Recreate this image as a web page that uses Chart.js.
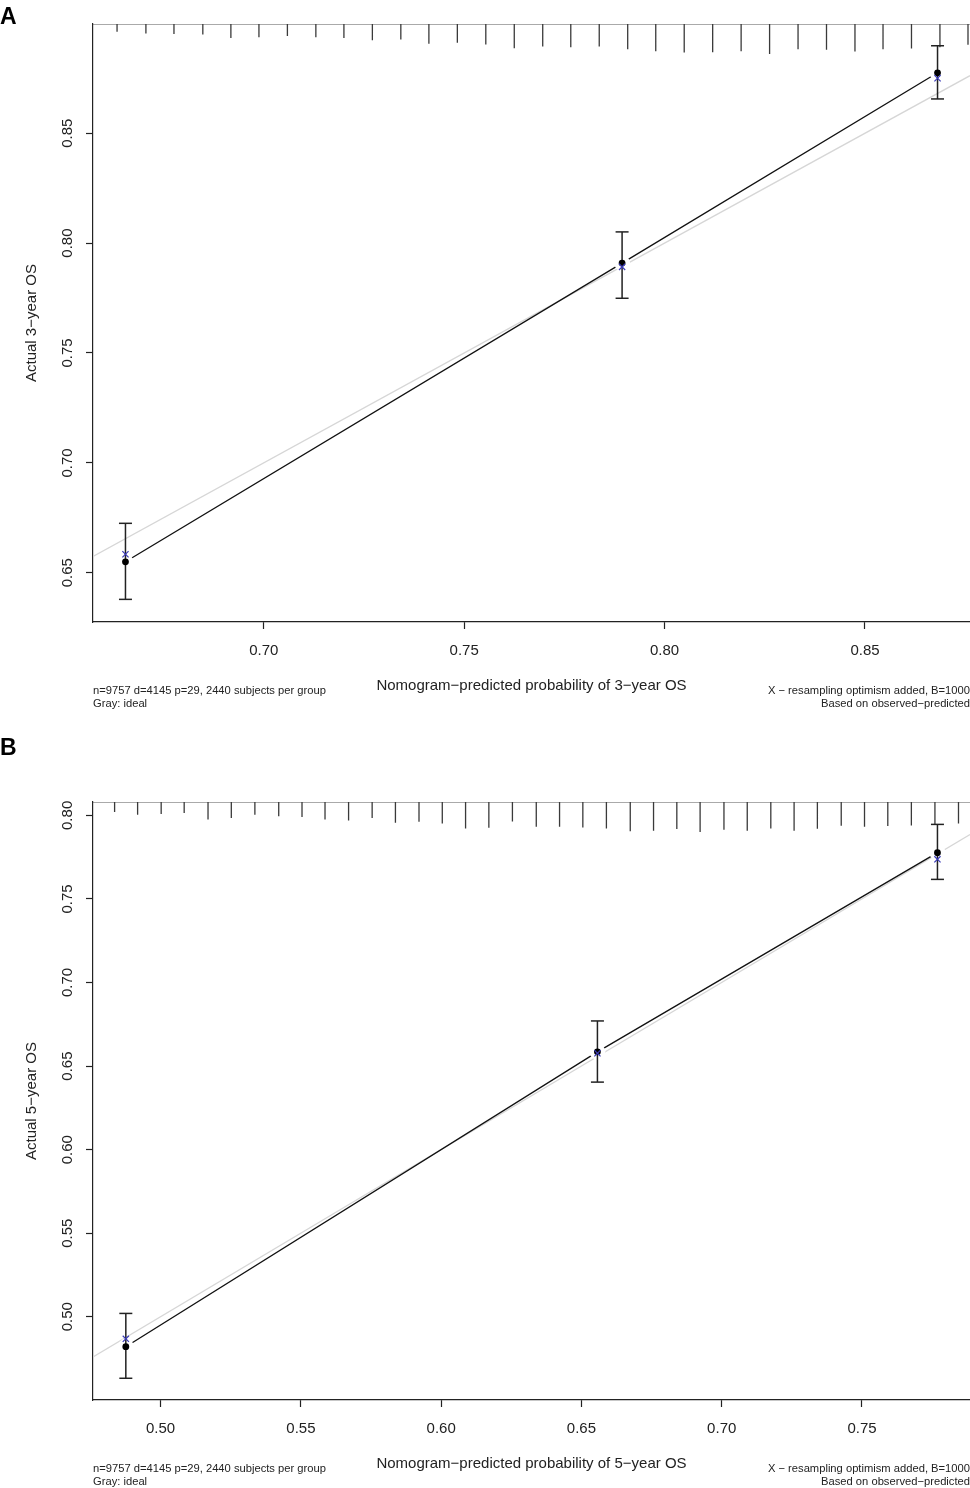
<!DOCTYPE html>
<html>
<head>
<meta charset="utf-8">
<title>Calibration curves</title>
<script src="https://cdn.jsdelivr.net/npm/chart.js@4.4.0/dist/chart.umd.min.js"></script>
<style>
  html, body { margin: 0; padding: 0; background: #fff; overflow: hidden; }
  .panel { position: absolute; left: 0; width: 970px; }
  #wrapA { top: 0; height: 710px; }
  #wrapB { top: 710px; height: 778px; }
</style>
</head>
<body>
<div class="panel" id="wrapA"><canvas id="chartA"></canvas></div>
<div class="panel" id="wrapB"><canvas id="chartB"></canvas></div>
<script>
"use strict";

// panel A: 3-year OS
const predA = [0.6655, 0.7894, 0.8681];
const obsA = [0.6550, 0.7909, 0.8775];
const corA = [0.6584, 0.7892, 0.8750];
const loA = [0.6379, 0.7749, 0.8656];
const hiA = [0.6725, 0.8051, 0.8898];
const rugXA = [
  0.6634, 0.6706, 0.6776, 0.6848, 0.6918, 0.6988, 0.7059, 0.7130, 0.7200, 0.7271,
  0.7342, 0.7412, 0.7483, 0.7554, 0.7625, 0.7696, 0.7766, 0.7837, 0.7908, 0.7978,
  0.8049, 0.8120, 0.8191, 0.8262, 0.8333, 0.8404, 0.8475, 0.8545, 0.8616, 0.8687,
  0.8757,
];
const rugFreqA = [
  7.7, 9.3, 9.7, 10.3, 13.7, 13, 11.7, 13, 13.7, 16,
  15.3, 19.3, 18.3, 20, 23.7, 22, 22.7, 22, 24.7, 26.7,
  28, 27.7, 26.7, 29.3, 24.7, 25.3, 27, 24.7, 24, 22.7,
  20.3,
];
const xTicksA = [0.70, 0.75, 0.80, 0.85];
const yTicksA = [0.65, 0.70, 0.75, 0.80, 0.85];

// panel B: 5-year OS
const predB = [0.4876, 0.6557, 0.7769];
const obsB = [0.4821, 0.6585, 0.7777];
const corB = [0.4868, 0.6577, 0.7737];
const loB = [0.4632, 0.6404, 0.7617];
const hiB = [0.5020, 0.6770, 0.7946];
const rugXB = [
  0.4836, 0.4918, 0.5002, 0.5084, 0.5169, 0.5252, 0.5336, 0.5421, 0.5504, 0.5586,
  0.5670, 0.5754, 0.5837, 0.5921, 0.6004, 0.6087, 0.6170, 0.6254, 0.6339, 0.6422,
  0.6505, 0.6589, 0.6674, 0.6757, 0.6840, 0.6923, 0.7008, 0.7091, 0.7175, 0.7258,
  0.7341, 0.7426, 0.7509, 0.7592, 0.7676, 0.7760, 0.7844,
];
const rugFreqB = [
  10.3, 13, 12.3, 11.3, 18, 16.3, 13, 14.7, 15.3, 18,
  19, 16.3, 21.3, 20.3, 22, 27, 26.3, 20, 25.3, 25.3,
  26, 27, 30, 29.3, 27.6, 30.6, 28.3, 29.3, 27, 29.3,
  27.3, 24.3, 25.3, 24.6, 24, 23, 22,
];
const xTicksB = [0.50, 0.55, 0.60, 0.65, 0.70, 0.75];
const yTicksB = [0.50, 0.55, 0.60, 0.65, 0.70, 0.75, 0.80];

const noteLeft = ["n=9757 d=4145 p=29, 2440 subjects per group", "Gray: ideal"];
const noteRight = ["X \u2212 resampling optimism added, B=1000", "Based on observed\u2212predicted"];

const FONT = "'Liberation Sans', Arial, Helvetica, sans-serif";
const INK = "#222";

// footnotes and panel letter
const notesPlugin = {
  id: "notes",
  afterDraw(chart, args, opts) {
    const { ctx, chartArea } = chart;
    ctx.save();
    ctx.fillStyle = INK;
    ctx.font = "11.2px " + FONT;
    ctx.textBaseline = "middle";
    ctx.textAlign = "left";
    noteLeft.forEach((t, i) => ctx.fillText(t, chartArea.left, chartArea.bottom + 69 + i * 13));
    ctx.textAlign = "right";
    noteRight.forEach((t, i) => ctx.fillText(t, chartArea.right, chartArea.bottom + 69 + i * 13));
    ctx.font = "bold 23px " + FONT;
    ctx.fillStyle = "#000";
    ctx.textAlign = "left";
    ctx.textBaseline = "alphabetic";
    ctx.fillText(opts.letter, 0, opts.letterY);
    ctx.restore();
  },
};

function pts(xs, ys) {
  return xs.map((x, i) => ({ x: x, y: ys[i] }));
}

function makePanel(id, p) {
  const yRange = p.yMax - p.yMin;
  const maxFreq = Math.max(...p.rugFreq);
  const rugData = [];
  p.rugX.forEach((x, i) => {
    rugData.push({ x: x, y: p.yMax });
    rugData.push({ x: x, y: p.yMax - (p.rugFreq[i] / maxFreq) * 0.05 * yRange });
    rugData.push({ x: x, y: null });
  });
  const barData = [];
  p.pred.forEach((x, i) => {
    barData.push({ x: x, y: p.lo[i] });
    barData.push({ x: x, y: p.hi[i] });
    barData.push({ x: x, y: null });
  });
  const ideal = [p.xMin, p.xMax].map((v) => ({ x: v, y: v }));

  const tickFont = { family: FONT, size: 15 };
  const gridOpts = { drawOnChartArea: false, drawTicks: true, tickLength: 7, color: INK, tickWidth: 1.2 };
  const borderOpts = { display: true, color: INK, width: 1.2 };

  return new Chart(document.getElementById(id), {
    type: "line",
    data: {
      datasets: [
        { data: rugData, borderColor: "#3a3a3a", borderWidth: 1.3, pointRadius: 0, spanGaps: false, order: 6 },
        { data: ideal, borderColor: "#d6d6d6", borderWidth: 1.3, pointRadius: 0, order: 5 },
        { data: pts(p.pred, p.obs), borderColor: "#111", borderWidth: 1.3, pointRadius: 0, order: 4 },
        { data: pts(p.pred, p.obs), showLine: false, pointRadius: 8, pointBackgroundColor: "#fff", pointBorderWidth: 0, order: 3 },
        { data: barData, borderColor: "#222", borderWidth: 1.5, pointStyle: "line", pointRadius: 6.5, pointBorderWidth: 1.5, spanGaps: false, order: 2 },
        { data: pts(p.pred, p.obs), showLine: false, pointRadius: 3.4, pointBackgroundColor: "#000", pointBorderColor: "#000", pointBorderWidth: 0, order: 1 },
        { data: pts(p.pred, p.cor), showLine: false, pointStyle: "crossRot", pointRadius: 4.4, pointBorderColor: "#3c3cb8", pointBorderWidth: 1.2, order: 0 },
      ],
    },
    options: {
      responsive: true,
      maintainAspectRatio: false,
      animation: false,
      events: [],
      layout: { autoPadding: false, padding: { top: p.top, left: 0, right: 0, bottom: 0 } },
      plugins: {
        legend: { display: false },
        tooltip: { enabled: false },
        notes: { letter: p.letter, letterY: p.letterY },
      },
      scales: {
        x: {
          type: "linear",
          min: p.xMin,
          max: p.xMax,
          afterBuildTicks: (s) => { s.ticks = p.xTicks.map((v) => ({ value: v })); },
          afterFit: (s) => { s.height = 88; },
          ticks: { callback: (v) => v.toFixed(2), font: tickFont, color: INK, padding: 13, maxRotation: 0, autoSkip: false },
          grid: gridOpts,
          border: borderOpts,
          title: { display: true, text: p.xTitle, font: tickFont, color: INK, padding: { top: 0, bottom: 15 } },
        },
        x2: {
          type: "linear",
          axis: "x",
          position: "top",
          min: p.xMin,
          max: p.xMax,
          afterFit: (s) => { s.height = 0; },
          ticks: { display: false },
          grid: { display: false, drawTicks: false },
          border: { display: true, color: "#aaa", width: 1 },
        },
        y: {
          type: "linear",
          min: p.yMin,
          max: p.yMax,
          afterBuildTicks: (s) => { s.ticks = p.yTicks.map((v) => ({ value: v })); },
          afterFit: (s) => { s.width = 93; },
          ticks: { callback: (v) => v.toFixed(2), font: tickFont, color: INK, padding: 4, minRotation: 90, maxRotation: 90, crossAlign: "center", autoSkip: false },
          grid: gridOpts,
          border: borderOpts,
          title: { display: true, text: p.yTitle, font: tickFont, color: INK, padding: { top: 23, bottom: 0 } },
        },
      },
    },
    plugins: [notesPlugin],
  });
}

makePanel("chartA", {
  letter: "A", letterY: 24, top: 24,
  xMin: 0.6574, xMax: 0.8762, yMin: 0.6276, yMax: 0.8997,
  pred: predA, obs: obsA, cor: corA, lo: loA, hi: hiA,
  rugX: rugXA, rugFreq: rugFreqA, xTicks: xTicksA, yTicks: yTicksA,
  xTitle: "Nomogram\u2212predicted probability of 3\u2212year OS",
  yTitle: "Actual 3\u2212year OS",
});

makePanel("chartB", {
  letter: "B", letterY: 45, top: 92,
  xMin: 0.4759, xMax: 0.7885, yMin: 0.4502, yMax: 0.8080,
  pred: predB, obs: obsB, cor: corB, lo: loB, hi: hiB,
  rugX: rugXB, rugFreq: rugFreqB, xTicks: xTicksB, yTicks: yTicksB,
  xTitle: "Nomogram\u2212predicted probability of 5\u2212year OS",
  yTitle: "Actual 5\u2212year OS",
});
</script>
</body>
</html>
